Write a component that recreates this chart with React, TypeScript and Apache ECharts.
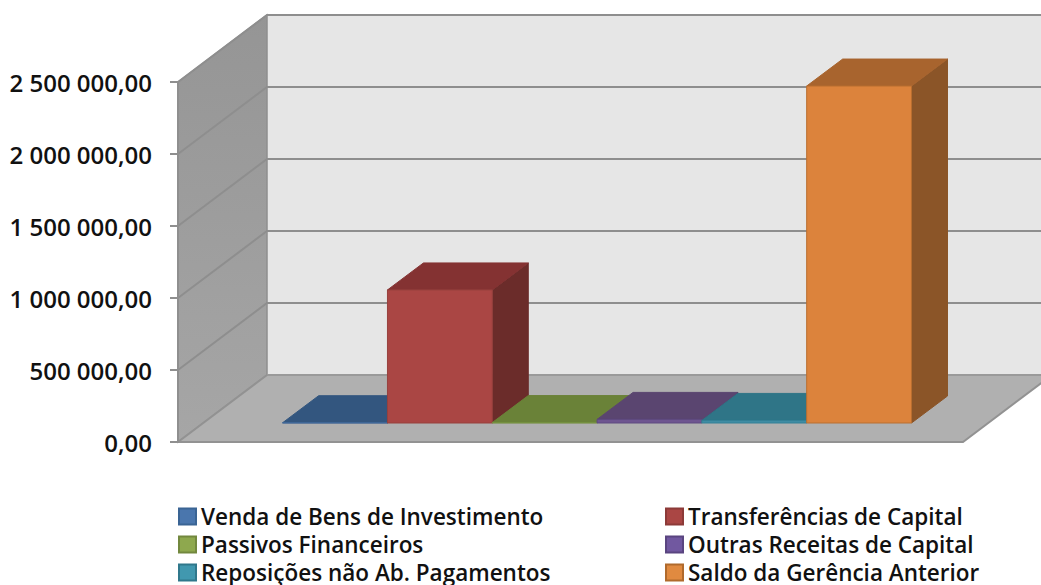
import React, { useEffect, useRef } from "react";
import * as echarts from "echarts";

const seriesNames = [
  "Venda de Bens de Investimento",
  "Transferências de Capital",
  "Passivos Financeiros",
  "Outras Receitas de Capital",
  "Reposições não Ab. Pagamentos",
  "Saldo da Gerência Anterior",
];
const seriesValues = [2000, 924000, 3000, 25000, 18000, 2340000];
const yTicks = [0, 500000, 1000000, 1500000, 2000000, 2500000];
const yTickLabels = ["0,00", "500 000,00", "1 000 000,00", "1 500 000,00", "2 000 000,00", "2 500 000,00"];

const frontColors = ["#4a76ad", "#aa4644", "#8aa64c", "#6e5590", "#3f8ca3", "#dc833c"];
const topColors = ["#33567f", "#843232", "#6a8238", "#5a4570", "#2f7587", "#a8642e"];
const sideColors = ["#2b4a6e", "#6b2c2a", "#58702e", "#49375c", "#266373", "#8b5528"];
const edgeColors = ["#3f6797", "#97403d", "#75903f", "#5f4a80", "#338096", "#b96f30"];
const legendColors = ["#4a76ad", "#aa4644", "#8ea84e", "#7158a0", "#4198af", "#e08a40"];
const legendBorders = ["#3a6494", "#8c3a38", "#72883e", "#5a4580", "#30788c", "#b06a2c"];

const WALL_DX = 89;
const WALL_DY = 67;
const FRONT_DX = 25;
const FRONT_DY = 19;
const BAR_DX = 36;
const BAR_DY = 27;
const FONT = "'Open Sans', 'Noto Sans', sans-serif";

const poly = (points: number[][], fill: any, stroke?: string, lineWidth = 1) => ({
  type: "polygon",
  shape: { points },
  style: { fill, stroke: stroke ?? "none", lineWidth },
});
const segs = (points: number[][], stroke: string, lineWidth: number) => ({
  type: "polyline",
  shape: { points },
  style: { fill: "none", stroke, lineWidth },
});

const renderFrame = (_p: any, api: any) => {
  const bl = api.coord([-0.76, 0]);
  const br = api.coord([6.73, 0]);
  const tl = api.coord([-0.76, 2500000]);
  const [x0, y0] = bl;
  const x1 = br[0];
  const yT = tl[1];
  const children: any[] = [
    poly([[x0 + WALL_DX, yT - WALL_DY], [x1 + WALL_DX, yT - WALL_DY], [x1 + WALL_DX, y0 - WALL_DY], [x0 + WALL_DX, y0 - WALL_DY]], "#e6e6e6"),
    poly([[x0, y0], [x0, yT], [x0 + WALL_DX, yT - WALL_DY], [x0 + WALL_DX, y0 - WALL_DY]],
      new echarts.graphic.LinearGradient(0, 0, 0, 1, [{ offset: 0, color: "#959595" }, { offset: 1, color: "#a6a6a6" }]), "#8f8f8f", 1.5),
    poly([[x0, y0], [x1, y0], [x1 + WALL_DX, y0 - WALL_DY], [x0 + WALL_DX, y0 - WALL_DY]], "#b0b0b0"),
  ];
  yTicks.forEach((t) => {
    const y = api.coord([0, t])[1];
    if (t > 0) {
      children.push(segs([[x0, y], [x0 + WALL_DX, y - WALL_DY], [x1 + WALL_DX, y - WALL_DY]], "#8e8e8e", 2));
    }
  });
  children.push(segs([[x0 + WALL_DX, y0 - WALL_DY], [x1 + WALL_DX, y0 - WALL_DY]], "#9a9a9a", 2));
  children.push(segs([[x0 + WALL_DX, y0 - WALL_DY], [x0, y0], [x1, y0], [x1 + WALL_DX, y0 - WALL_DY]], "#929292", 2));
  return { type: "group", children };
};

const renderBar = (_p: any, api: any) => {
  const i = api.value(0);
  const v = api.value(1);
  const k = _p.seriesIndex - 1;
  const a = api.coord([i, 0]);
  const b = api.coord([i + 1, v]);
  const l = a[0] + FRONT_DX;
  const r = b[0] + FRONT_DX;
  const bot = a[1] - FRONT_DY;
  const top = b[1] - FRONT_DY;
  const edge = edgeColors[k];
  return {
    type: "group",
    children: [
      poly([[r, bot], [r, top], [r + BAR_DX, top - BAR_DY], [r + BAR_DX, bot - BAR_DY]], sideColors[k], sideColors[k]),
      poly([[l, top], [r, top], [r + BAR_DX, top - BAR_DY], [l + BAR_DX, top - BAR_DY]], topColors[k], topColors[k]),
      poly([[l, bot], [r, bot], [r, top], [l, top]], frontColors[k], edge, 1),
    ],
  };
};

export default function App() {
  const ref = useRef<HTMLDivElement>(null);
  useEffect(() => {
    const chart = echarts.init(ref.current!, undefined, { renderer: "svg" });
    const legendLeft = [178, 665];
    const legendTop = [505, 533, 561];
    chart.setOption({
      animation: false,
      backgroundColor: "#ffffff",
      grid: { left: 178, top: 82, width: 785, height: 360, containLabel: false },
      xAxis: { type: "value", min: -0.76, max: 6.73, show: false },
      yAxis: {
        type: "value",
        min: 0,
        max: 2500000,
        interval: 500000,
        z: 4,
        axisLine: { show: true, onZero: false, lineStyle: { color: "#8f8f8f", width: 2 } },
        axisTick: { show: true, length: 8, lineStyle: { color: "#8f8f8f", width: 2 } },
        splitLine: { show: false },
        axisLabel: {
          margin: 26,
          fontFamily: FONT,
          fontSize: 24,
          fontWeight: 600,
          color: "#111111",
          padding: [3, 0, 0, 0],
          formatter: (_v: number, idx: number) => yTickLabels[idx],
        },
      },
      legend: seriesNames.map((name, k) => ({
        data: [name],
        left: legendLeft[k % 2],
        top: legendTop[Math.floor(k / 2)],
        padding: 0,
        icon: "rect",
        itemWidth: 17,
        itemHeight: 16,
        selectedMode: false,
        itemStyle: { color: legendColors[k], borderColor: legendBorders[k], borderWidth: 2 },
        textStyle: {
          fontFamily: FONT,
          fontSize: 22.5,
          lineHeight: 22,
          fontWeight: 600,
          color: "#111111",
        },
      })),
      series: [
        { type: "custom", name: "frame", data: [[0, 0]], renderItem: renderFrame, silent: true, z: 1 },
        ...seriesNames.map((name, k) => ({
          type: "custom",
          name,
          data: [[k, seriesValues[k]]],
          renderItem: renderBar,
          itemStyle: { color: legendColors[k] },
          z: 2 + k,
        })),
      ],
    });
    return () => chart.dispose();
  }, []);
  return <div ref={ref} style={{ position: "absolute", left: 0, top: 0, width: 1041, height: 585 }} />;
}
